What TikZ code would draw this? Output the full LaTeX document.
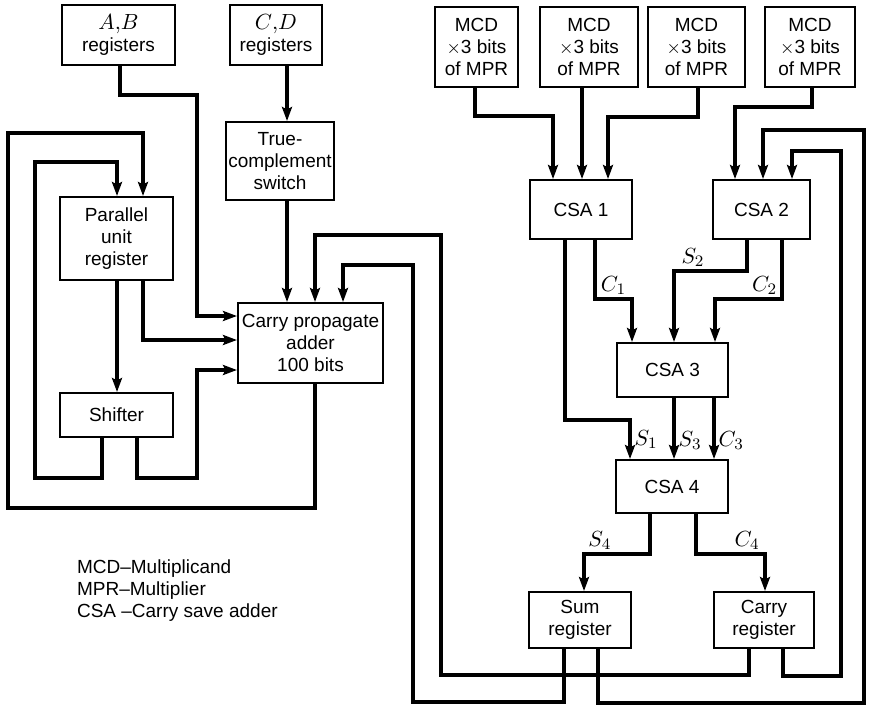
\documentclass[tikz,border=0pt]{standalone}
\usepackage[no-math]{fontspec}
\setmainfont{Liberation Sans}
\usepackage{amsmath}
\usetikzlibrary{arrows.meta}

\begin{document}
\begin{tikzpicture}[
    x=0.5pt,
    y=-0.5pt,
    font=\fontsize{9.5}{11}\selectfont,
    unit/.style={
        rectangle,
        draw=black,
        line width=1pt,
        align=center,
        inner sep=1pt
    },
    arrow/.style={
        line width=1.7pt,
        -{Stealth[length=7pt, width=5pt, inset=1.2pt]}
    },
    tag/.style={
        font=\fontsize{11}{12}\selectfont,
        inner sep=1.5pt
    }
]
\useasboundingbox (0,0) rectangle (870,705);
% LEFT HALF
\node (ab) [unit, minimum width=56.5pt, minimum height=30pt] at (118.5,35) {\fontsize{11}{11}\selectfont$A{,}B$\\registers};
\node (cd) [unit, minimum width=46pt, minimum height=30pt] at (276,35) {\fontsize{11}{11}\selectfont$C{,}D$\\registers};
\node (tcs) [unit, minimum width=52pt, minimum height=39pt] at (280,161) {True-\\complement\\switch};
\node (par) [unit, minimum width=56.5pt, minimum height=41.5pt] at (116.5,238.5) {Parallel\\unit\\register};
\node (shifter) [unit, minimum width=56.5pt, minimum height=22pt] at (116.5,415) {Shifter};
\node (cpa) [unit, minimum width=72.5pt, minimum height=40pt] at (310.5,343) {Carry propagate\\adder\\100 bits};
% RIGHT HALF
\node (mcd1) [unit, minimum width=41.5pt, minimum height=40pt] at (476.5,47) {MCD\\$\times$3 bits\\of MPR};
\node (mcd2) [unit, minimum width=49pt, minimum height=40pt] at (589,47) {MCD\\$\times$3 bits\\of MPR};
\node (mcd3) [unit, minimum width=48.5pt, minimum height=40pt] at (696.5,47) {MCD\\$\times$3 bits\\of MPR};
\node (mcd4) [unit, minimum width=45pt, minimum height=40pt] at (810,47) {MCD\\$\times$3 bits\\of MPR};
\node (csa1) [unit, minimum width=51pt, minimum height=29.5pt] at (581,209.5) {CSA 1};
\node (csa2) [unit, minimum width=48.5pt, minimum height=29.5pt] at (761.5,209.5) {CSA 2};
\node (csa3) [unit, minimum width=55.5pt, minimum height=27pt] at (672.5,370) {CSA 3};
\node (csa4) [unit, minimum width=56pt, minimum height=26.5pt] at (672,486.5) {CSA 4};
\node (sum) [unit, minimum width=51pt, minimum height=28pt] at (580,620) {Sum\\register};
\node (carry) [unit, minimum width=50pt, minimum height=28pt] at (764,620) {Carry\\register};
% LEGEND
\node (legend) [align=left, anchor=west] at (70,591) {MCD--Multiplicand\\MPR--Multiplier\\CSA --Carry save adder};
% INPUTS OF THE CARRY PROPAGATE ADDER
\draw [arrow] (ab.south -| 120,0) |- (197,95) |- (cpa.west |- 0,316);
\draw [arrow] (cd.south -| 287,0) -- (tcs.north -| 287,0);
\draw [arrow] (tcs.south -| 287,0) -- (cpa.north -| 287,0);
\draw [arrow] (par.south -| 117,0) -- (shifter.north -| 117,0);
\draw [arrow] (par.south -| 143,0) |- (cpa.west |- 0,340);
\draw [arrow] (shifter.south -| 137,0) |- (197,478) |- (cpa.west |- 0,370);
% FEEDBACK TO THE PARALLEL UNIT
\draw [arrow] (shifter.south -| 102,0) |- (35,478) |- (117,162) -- (par.north -| 117,0);
\draw [arrow] (cpa.south -| 315,0) |- (8,508) |- (143,133) -- (par.north -| 143,0);
% MULTIPLES INTO THE CSA TREE
\draw [arrow] (mcd1.south -| 475,0) |- (553,116) -- (csa1.north -| 553,0);
\draw [arrow] (mcd2.south -| 582,0) -- (csa1.north -| 582,0);
\draw [arrow] (mcd3.south -| 698,0) |- (608,117) -- (csa1.north -| 608,0);
\draw [arrow] (mcd4.south -| 812,0) |- (735,107) -- (csa2.north -| 735,0);
% CSA TREE
\draw [arrow] (csa1.south -| 565,0) |- (630,420) -- node[tag, right] {$S_1$} (csa4.north -| 630,0);
\draw [arrow] (csa1.south -| 595,0) |- node[tag, pos=0.75, above] {$C_1$} (632,299) -- (csa3.north -| 632,0);
\draw [arrow] (csa2.south -| 747,0) |- node[tag, pos=0.87, above] {$S_2$} (674,271) -- (csa3.north -| 674,0);
\draw [arrow] (csa2.south -| 782,0) |- node[tag, pos=0.63, above] {$C_2$} (715,299) -- (csa3.north -| 715,0);
\draw [arrow] (csa3.south -| 674,0) -- node[tag, pos=0.7, right] {$S_3$} (csa4.north -| 674,0);
\draw [arrow] (csa3.south -| 714,0) -- node[tag, pos=0.7, right] {$C_3$} (csa4.north -| 714,0);
\draw [arrow] (csa4.south -| 650,0) |- node[tag, pos=0.88, above] {$S_4$} (584,554) -- (sum.north -| 584,0);
\draw [arrow] (csa4.south -| 696,0) |- node[tag, pos=0.87, above] {$C_4$} (765,554) -- (carry.north -| 765,0);
% SUM AND CARRY BACK TO THE ADDERS
\draw [arrow] (sum.south -| 564,0) |- (413,702) |- (343,265) -- (cpa.north -| 343,0);
\draw [arrow] (carry.south -| 749,0) |- (441,675) |- (315,235) -- (cpa.north -| 315,0);
\draw [arrow] (sum.south -| 598,0) |- (864,703) |- (763,130) -- (csa2.north -| 763,0);
\draw [arrow] (carry.south -| 783,0) |- (841,676) |- (792,151) -- (csa2.north -| 792,0);
\end{tikzpicture}
\end{document}
